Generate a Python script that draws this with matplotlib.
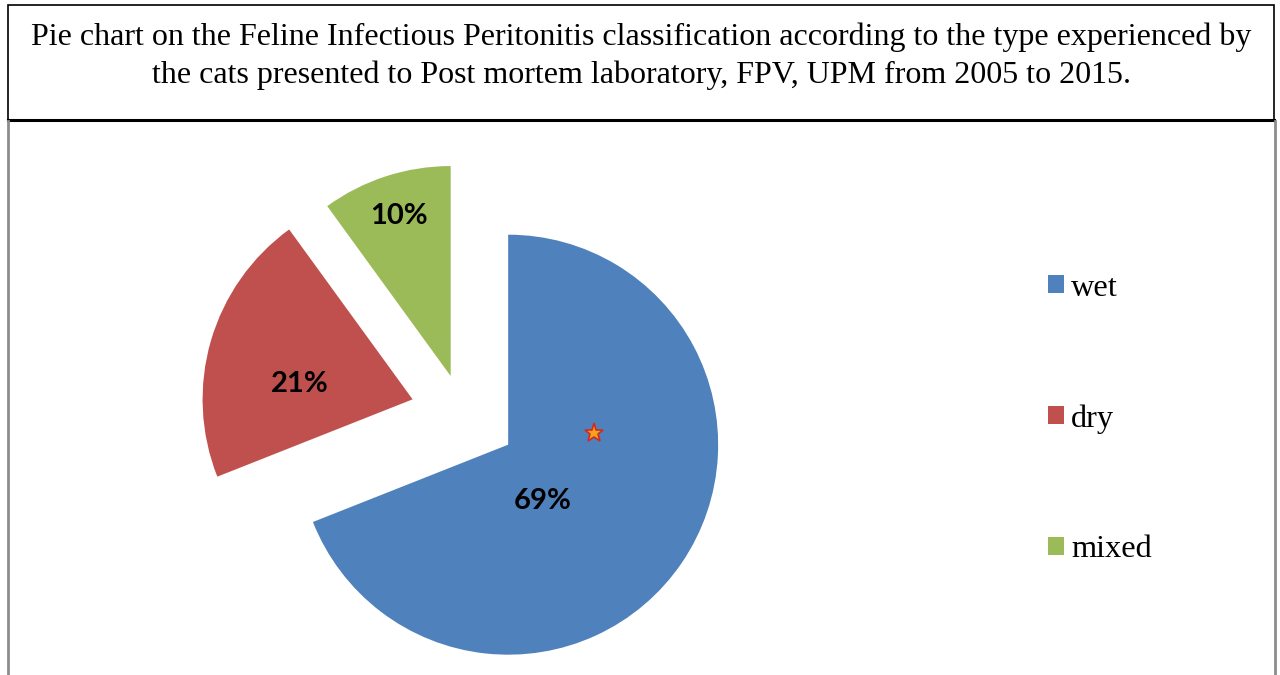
import numpy as np
import matplotlib.pyplot as plt
from matplotlib.patches import Patch, Rectangle

# ---------------- data ----------------
categories = ["wet", "dry", "mixed"]
shares = [69, 21, 10]
colors = ["#4F81BD", "#C0504D", "#9BBB59"]

title = ("Pie chart on the Feline Infectious Peritonitis classification according to the type experienced by\n"
         "the cats presented to Post mortem laboratory, FPV, UPM from 2005 to 2015.")

# ---------------- layout (pixel units, y measured from the top) ----------------
W, H = 1280, 675
R = 210
explode_frac = [0.26, 0.25, 0.19]
# label placement per slice: (angle shift from mid-angle in deg, distance as fraction of radius)
label_place = [(-24, 0.315), (8.6, 0.54), (0, 0.80)]


def Y(y):
    return H - y


fig = plt.figure(figsize=(W / 100, H / 100), dpi=100)
ax = fig.add_axes([0, 0, 1, 1])

wedges, _ = ax.pie(shares, colors=colors, startangle=90, counterclock=False,
                   radius=R, center=(463, Y(414)),
                   explode=[e * R for e in explode_frac],
                   wedgeprops=dict(linewidth=0))

total = sum(shares)
for w, v, (shift, frac) in zip(wedges, shares, label_place):
    mid = np.deg2rad(0.5 * (w.theta1 + w.theta2) + shift)
    cx, cy = w.center
    ax.text(cx + frac * w.r * np.cos(mid), cy + frac * w.r * np.sin(mid),
            f"{round(100 * v / total)}%", ha="center", va="center",
            fontsize=21, fontweight="bold", family="Lato", color="black")

# small star decoration sitting on the wet slice
ax.plot(594, Y(433), marker="*", ms=14, mfc="#f7a21b", mec="#d42a1e", mew=1.2)

ax.set_xlim(0, W)
ax.set_ylim(0, H)
ax.set_aspect("equal")
ax.axis("off")

# title box and frame
ax.add_patch(Rectangle((8, Y(120)), 1266, 115, fill=False, edgecolor="black", linewidth=1.2))
ax.plot([8, 1274], [Y(120), Y(120)], color="black", linewidth=2.2)
ax.plot([8, 8], [Y(121), 0], color="#8c8c8c", linewidth=2)
ax.plot([1275, 1275], [Y(121), 0], color="#8c8c8c", linewidth=2)
ax.text(641, Y(56), title, ha="center", va="center", fontsize=23,
        family="Liberation Serif", linespacing=1.36)

handles = [Patch(facecolor=c, edgecolor="none") for c in colors]
ax.legend(handles, categories, loc="center left", bbox_to_anchor=(1032 / W, 1 - 419 / H),
          bbox_transform=fig.transFigure, frameon=False, borderpad=0,
          prop=dict(family="Liberation Serif", size=23.3),
          handlelength=0.49, handleheight=0.49, handletextpad=0.22, labelspacing=3.14)

fig.savefig("out.png", dpi=100)
